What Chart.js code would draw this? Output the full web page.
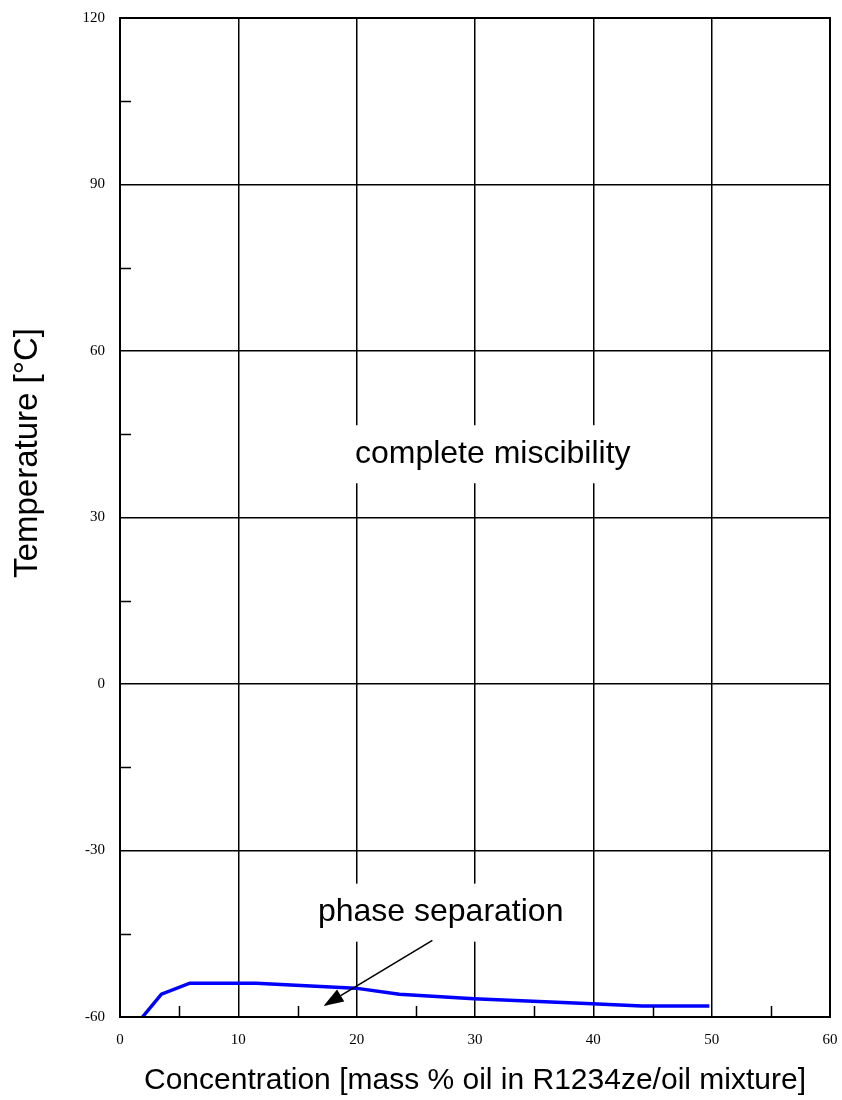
<!DOCTYPE html>
<html>
<head>
<meta charset="utf-8">
<script src="https://cdn.jsdelivr.net/npm/chart.js@4.4.0/dist/chart.umd.min.js"></script>
<style>
  body { margin: 0; background: #fff; }
  canvas { display: block; }
</style>
</head>
<body>
<canvas id="plot" width="842" height="1100"></canvas>
<script>

// miscibility boundary, R1234ze / oil
var concentration = [1.9, 3.5, 5.9, 11.5, 19.9, 23.6, 29.9, 39.9, 44.1, 49.8];
var temperature   = [-60, -55.9, -53.9, -53.9, -54.8, -55.9, -56.7, -57.6, -58.0, -58.0];

var xTicks = [0, 10, 20, 30, 40, 50, 60];
var yTicks = [-60, -30, 0, 30, 60, 90, 120];

var xTitle = "Concentration [mass % oil in R1234ze/oil mixture]";
var yTitle = "Temperature [°C]";

// region labels: text, centre (x, y) in data units, box half sizes in px
var regionLabels = [
    {text: "complete miscibility", x: 31.5, y: 41.4, w: 144, h: 29},
    {text: "phase separation", x: 27.1, y: -41.2, w: 130, h: 29}
];
// arrow from label down into the two-phase region
var arrowFrom = [26.4, -46.2];
var arrowTo = [17.2, -58.0];

var sansFont = "Liberation Sans, Arial, sans-serif";

var points = [];
for (var i = 0; i < concentration.length; i++)
{
    points.push({x: concentration[i], y: temperature[i]});
}

function majorGrid(list)
{
    return function(ctx) {
        return (ctx.tick && list.indexOf(ctx.tick.value) >= 0) ? "#000" : "rgba(0,0,0,0)";
    };
}

var decorations = {
    id: "decorations",
    afterDatasetsDraw: function(chart)
    {
        var ctx = chart.ctx;
        var area = chart.chartArea;
        var xs = chart.scales.x;
        var ys = chart.scales.y;
        ctx.save();

        // inner minor ticks
        ctx.strokeStyle = "#000";
        ctx.lineWidth = 1.5;
        ctx.beginPath();
        for (var v = -45; v < 120; v += 30)
        {
            var py = Math.round(ys.getPixelForValue(v)) + 0.5;
            ctx.moveTo(area.left, py);
            ctx.lineTo(area.left + 11, py);
        }
        for (var u = 5; u < 60; u += 10)
        {
            var px = Math.round(xs.getPixelForValue(u)) + 0.5;
            ctx.moveTo(px, area.bottom);
            ctx.lineTo(px, area.bottom - 11);
        }
        ctx.stroke();

        // frame
        ctx.lineWidth = 2;
        ctx.strokeRect(area.left, area.top, area.right - area.left, area.bottom - area.top);

        // region labels on white boxes
        ctx.font = "32px " + sansFont;
        ctx.textAlign = "center";
        ctx.textBaseline = "middle";
        regionLabels.forEach(function(lab) {
            var cx = xs.getPixelForValue(lab.x);
            var cy = ys.getPixelForValue(lab.y);
            ctx.fillStyle = "#fff";
            ctx.fillRect(cx - lab.w, cy - lab.h, lab.w * 2, lab.h * 2);
            ctx.fillStyle = "#000";
            ctx.fillText(lab.text, cx, cy);
        });

        // arrow
        var x1 = xs.getPixelForValue(arrowFrom[0]), y1 = ys.getPixelForValue(arrowFrom[1]);
        var x2 = xs.getPixelForValue(arrowTo[0]), y2 = ys.getPixelForValue(arrowTo[1]);
        var ang = Math.atan2(y2 - y1, x2 - x1);
        var headLen = 20, headW = 7;
        var bx = x2 - headLen * Math.cos(ang), by = y2 - headLen * Math.sin(ang);
        ctx.lineWidth = 1.6;
        ctx.beginPath();
        ctx.moveTo(x1, y1);
        ctx.lineTo(bx, by);
        ctx.stroke();
        ctx.beginPath();
        ctx.moveTo(x2, y2);
        ctx.lineTo(bx + headW * Math.sin(ang), by - headW * Math.cos(ang));
        ctx.lineTo(bx - headW * Math.sin(ang), by + headW * Math.cos(ang));
        ctx.closePath();
        ctx.fill();

        // axis titles
        ctx.font = "30px " + sansFont;
        ctx.fillText(xTitle, (area.left + area.right) / 2, 1081);
        ctx.font = "33px " + sansFont;
        ctx.translate(28, 453);
        ctx.rotate(-Math.PI / 2);
        ctx.fillText(yTitle, 0, 0);

        ctx.restore();
    }
};

var chart = new Chart(document.getElementById("plot").getContext("2d"), {
    type: "line",
    data: {
        datasets: [{
            data: points,
            borderColor: "#0000ff",
            borderWidth: 3.5,
            pointRadius: 0,
            fill: false,
            tension: 0
        }]
    },
    options: {
        responsive: false,
        animation: false,
        devicePixelRatio: 1,
        layout: {padding: {top: 18, right: 12, left: 0, bottom: 0}},
        plugins: {legend: {display: false}, tooltip: {enabled: false}},
        scales: {
            x: {
                type: "linear",
                min: 0,
                max: 60,
                afterFit: function(scale) {
                    scale.height = 83;
                    scale.paddingLeft = 0;
                    scale.paddingRight = 0;
                },
                afterBuildTicks: function(scale) {
                    scale.ticks = xTicks.map(function(v) { return {value: v}; });
                },
                ticks: {
                    font: {family: "Liberation Serif, Times New Roman, serif", size: 15},
                    color: "#000",
                    padding: 14,
                    autoSkip: false,
                    maxRotation: 0
                },
                grid: {color: majorGrid(xTicks), lineWidth: 1.5, drawTicks: false},
                border: {display: false}
            },
            y: {
                type: "linear",
                min: -60,
                max: 120,
                afterFit: function(scale) {
                    scale.width = 120;
                    scale.paddingTop = 0;
                    scale.paddingBottom = 0;
                },
                afterBuildTicks: function(scale) {
                    scale.ticks = yTicks.map(function(v) { return {value: v}; });
                },
                ticks: {
                    font: {family: "Liberation Serif, Times New Roman, serif", size: 15},
                    color: "#000",
                    padding: 15,
                    autoSkip: false
                },
                grid: {color: majorGrid(yTicks), lineWidth: 1.5, drawTicks: false},
                border: {display: false}
            }
        }
    },
    plugins: [decorations]
});
</script>
</body>
</html>
